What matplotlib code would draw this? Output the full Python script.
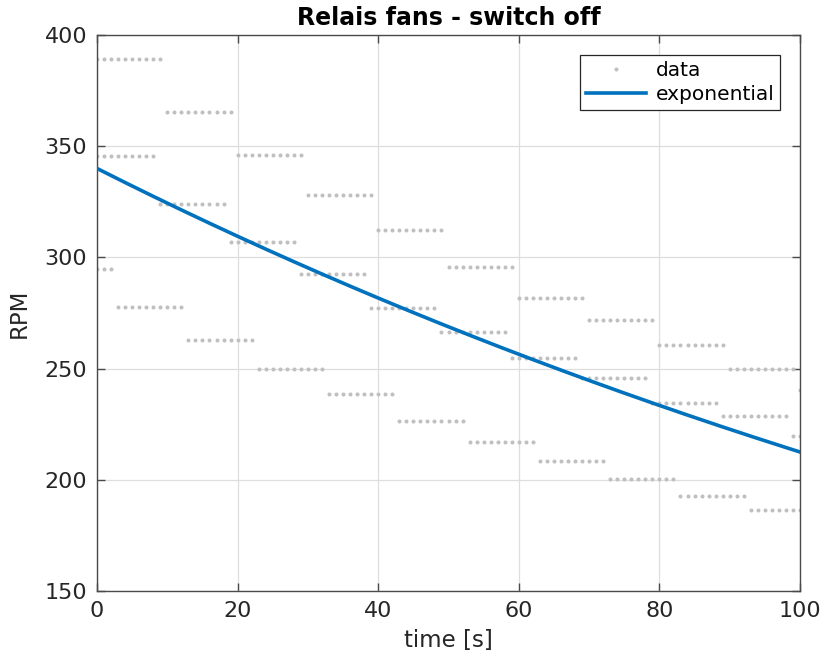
"""Relais fans switch-off: RPM samples with exponential fit."""
import matplotlib as mpl
import matplotlib.pyplot as plt
import numpy as np

mpl.rcParams.update({
    "font.family": "DejaVu Sans", "font.size": 16,
    "axes.linewidth": 1.0, "axes.edgecolor": "#4a4a4a",
    "xtick.color": "#4a4a4a", "ytick.color": "#4a4a4a",
    "xtick.labelcolor": "#262626", "ytick.labelcolor": "#262626",
    "xtick.direction": "in", "ytick.direction": "in",
})

# three interleaved staircases, one level per 10 s step
# (step start time, step end time, RPM level)
stairs_a_start = [0, 10, 20, 30, 40, 50, 60, 70, 80, 90, 100]
stairs_a_end = [9, 19, 29, 39, 49, 59, 69, 79, 89, 99, 100]
stairs_a_rpm = [389.2, 365.4, 346.0, 328.1, 312.3, 295.7, 281.9, 271.7, 260.5, 250.0, 240.4]

stairs_b_start = [0, 9, 19, 29, 39, 49, 59, 69, 79, 89, 99]
stairs_b_end = [8, 18, 28, 38, 48, 58, 68, 78, 88, 98, 100]
stairs_b_rpm = [345.6, 324.0, 307.0, 292.5, 277.4, 266.6, 254.9, 245.9, 234.7, 228.8, 219.7]

stairs_c_start = [0, 3, 13, 23, 33, 43, 53, 63, 73, 83, 93]
stairs_c_end = [2, 12, 22, 32, 42, 52, 62, 72, 82, 92, 100]
stairs_c_rpm = [294.8, 277.7, 263.0, 250.0, 238.6, 226.3, 217.1, 208.5, 200.4, 192.9, 186.4]

# exponential fit: rpm = fit_a * exp(-fit_k * t)
fit_a = 340.0
fit_k = 0.0047


def expand(starts, ends, levels):
    t, y = [], []
    for s, e, v in zip(starts, ends, levels):
        n = e - s + 1
        t.extend(np.arange(s, e + 1))
        y.extend([v] * n)
    return np.array(t, float), np.array(y, float)


def main():
    ta, ya = expand(stairs_a_start, stairs_a_end, stairs_a_rpm)
    tb, yb = expand(stairs_b_start, stairs_b_end, stairs_b_rpm)
    tc, yc = expand(stairs_c_start, stairs_c_end, stairs_c_rpm)
    t = np.concatenate([ta, tb, tc])
    rpm = np.concatenate([ya, yb, yc])

    fig = plt.figure(figsize=(8.26, 6.59), dpi=100)
    ax = fig.add_axes([97 / 826, 1 - 591 / 659, 703 / 826, 556 / 659])

    ax.plot(t, rpm, ".", color="#c0c0c0", ms=3.8, label="data", zorder=2)
    tt = np.linspace(0, 100, 300)
    ax.plot(tt, fit_a * np.exp(-fit_k * tt), color="#0072BD", lw=2.6,
            label="exponential", zorder=3)

    ax.set_xlim(0, 100)
    ax.set_ylim(150, 400)
    ax.set_xticks(range(0, 101, 20))
    ax.set_yticks(range(150, 401, 50))
    ax.grid(True, color="#dedede", lw=0.9)
    ax.set_axisbelow(True)
    ax.tick_params(top=True, right=True, length=6, width=1.0, pad=7,
                   labelsize=16)
    ax.set_xlabel("time [s]", color="#262626", fontsize=16.5, labelpad=6)
    ax.set_ylabel("RPM", color="#262626", fontsize=16.5, labelpad=10)
    ax.set_title("Relais fans - switch off", fontweight="bold", fontsize=17, pad=7)

    leg = ax.legend(loc="upper right", bbox_to_anchor=(0.972, 0.964),
                    fancybox=False, framealpha=1, edgecolor="#262626",
                    fontsize=14.5, borderpad=0.3, labelspacing=0.25,
                    handlelength=3.0, handletextpad=0.45, borderaxespad=0)
    leg.get_frame().set_linewidth(0.9)

    fig.savefig("out.png", dpi=100)
    plt.close(fig)


if __name__ == "__main__":
    main()
